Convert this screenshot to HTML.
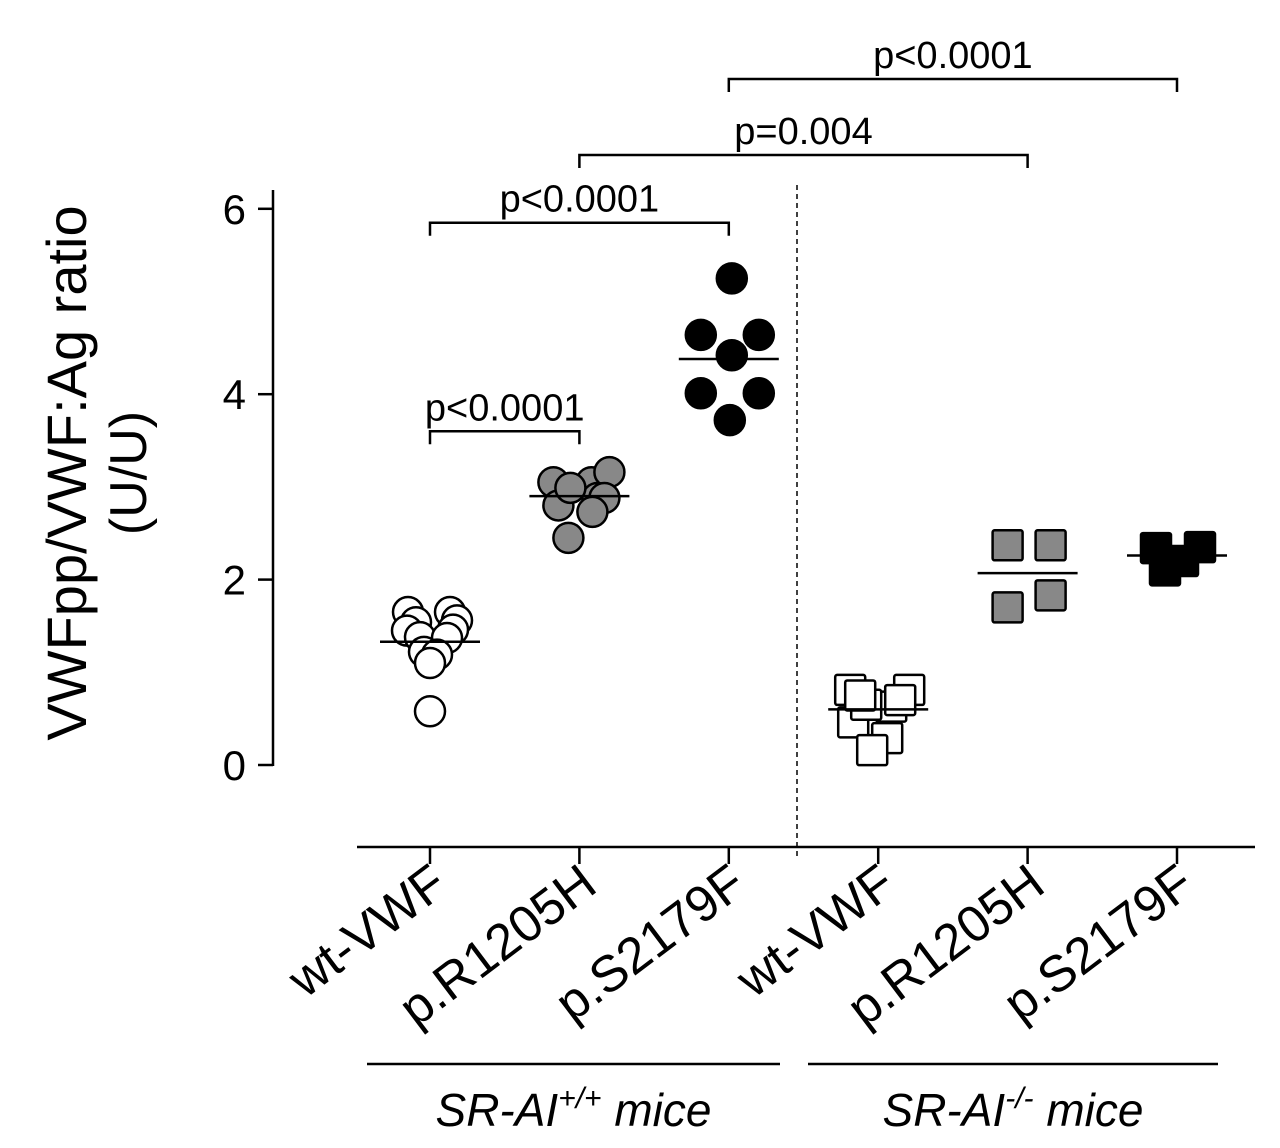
<!DOCTYPE html>
<html><head><meta charset="utf-8"><style>
html,body{margin:0;padding:0;background:#fff;}
svg{display:block;font-family:"Liberation Sans",Arial,sans-serif;}
</style></head><body>
<svg id="chart" width="1280" height="1148" viewBox="0 0 1280 1148"></svg>
<script>
const categories=["wt-VWF","p.R1205H","p.S2179F","wt-VWF","p.R1205H","p.S2179F"];
const markerShape=["circle","circle","circle","square","square","square"];
const markerFill=["#fff","#888","#000","#fff","#888","#000"];
const g0=[1.65,1.65,1.54,1.56,1.46,1.45,1.38,1.37,1.22,1.19,1.10,0.58];
const g0dx=[-22,20,-14,27,23,-23,-10,17,-6,7,0,0];
const g1=[3.05,3.05,3.16,2.88,2.88,2.80,2.73,2.45,2.99];
const g1dx=[-26,12,30,18,25,-21,13,-11,-9];
const g2=[5.25,4.64,4.64,4.42,4.01,4.01,3.72];
const g2dx=[3,-28,30,3,-28,30,1];
const g3=[0.81,0.81,0.46,0.29,0.16,0.63,0.65,0.75,0.70];
const g3dx=[-28,31,-25,9,-6,13,-12,-18,22];
const g4=[2.37,2.37,1.83,1.70];
const g4dx=[-20,23,23,-20];
const g5=[2.34,2.35,2.20,2.10];
const g5dx=[-21,23,6,-12];
const means=[1.33,2.90,4.38,0.60,2.07,2.26];
const yTicks=[0,2,4,6];
const pLabels=["p<0.0001","p<0.0001","p=0.004","p<0.0001"];
const pFrom=[0,0,1,2];
const pTo=[1,2,4,5];
const pY=[3.6,5.85,6.58,7.4];
const groupLabels=["SR-AI","SR-AI"];
const groupSup=["+/+","-/-"];
const groups=[g0,g1,g2,g3,g4,g5];
const groupsDx=[g0dx,g1dx,g2dx,g3dx,g4dx,g5dx];

const svg=document.getElementById('chart');
const NS='http://www.w3.org/2000/svg';
function y(v){return 765-92.7*v;}
function x(i){return 430+149.4*i;}
function mk(tag,attrs,parent){const e=document.createElementNS(NS,tag);for(const k in attrs)e.setAttribute(k,attrs[k]);(parent||svg).appendChild(e);return e;}

let e=mk('line',{x1:273,y1:190,x2:273,y2:766,stroke:'#000','stroke-width':2.5});


yTicks.forEach(t=>{
  let l=mk('line',{x1:258,y1:y(t),x2:273,y2:y(t),stroke:'#000','stroke-width':2.5});
  
  
  let tx=mk('text',{x:246,y:y(t)+15,'text-anchor':'end','font-size':42});
  tx.textContent=t;
  
  
});
let yt=mk('text',{transform:'translate(86,473) rotate(-90)','text-anchor':'middle','font-size':56});
yt.textContent='VWFpp/VWF:Ag ratio';


let yt2=mk('text',{transform:'translate(146,473) rotate(-90)','text-anchor':'middle','font-size':52});
yt2.textContent='(U/U)';



e=mk('line',{x1:357,y1:847,x2:1255,y2:847,stroke:'#000','stroke-width':2.5});


categories.forEach((c,i)=>{
  let l=mk('line',{x1:x(i),y1:847,x2:x(i),y2:864,stroke:'#000','stroke-width':2.5});
  
  
  let t=mk('text',{transform:`translate(${x(i)+20},${890}) rotate(-37)`,'text-anchor':'end','font-size':51});
  t.textContent=c;
  
  
});
e=mk('line',{x1:797,y1:185,x2:797,y2:860,stroke:'#000','stroke-width':1.5,'stroke-dasharray':'5,4'});



groups.forEach((g,gi)=>{
  g.forEach((v,j)=>{
    const cx=x(gi)+groupsDx[gi][j], cy=y(v);
    let m;
    if(markerShape[gi]==='circle') m=mk('circle',{cx:cx,cy:cy,r:15,fill:markerFill[gi],stroke:'#000','stroke-width':2.5});
    else m=mk('rect',{x:cx-15,y:cy-15,width:30,height:30,rx:2,fill:markerFill[gi],stroke:'#000','stroke-width':2.5});
    
    
  });
});
means.forEach((v,i)=>{
  let l=mk('line',{x1:x(i)-50,y1:y(v),x2:x(i)+50,y2:y(v),stroke:'#000','stroke-width':2.5});
  
  
});
pLabels.forEach((p,i)=>{
  const x1=x(pFrom[i]),x2=x(pTo[i]),yy=y(pY[i]);
  let b=mk('path',{d:`M${x1},${yy+13}V${yy}H${x2}V${yy+13}`,fill:'none',stroke:'#000','stroke-width':2.5});
  
  
  let t=mk('text',{x:(x1+x2)/2,y:yy-11,'text-anchor':'middle','font-size':38});
  t.textContent=p;
  
  
});
[[367,780],[808,1218]].forEach((r,i)=>{
  let l=mk('line',{x1:r[0],y1:1064,x2:r[1],y2:1064,stroke:'#000','stroke-width':2.5});
  
  
  let t=mk('text',{x:(r[0]+r[1])/2,y:1126,'text-anchor':'middle','font-size':46,'font-style':'italic'});
  
  
  let a=mk('tspan',{},t);a.textContent=groupLabels[i];
  let s=mk('tspan',{dy:-18,'font-size':30},t);s.textContent=groupSup[i];
  let m=mk('tspan',{dy:18},t);m.textContent=' mice';
});
</script>
</body></html>
